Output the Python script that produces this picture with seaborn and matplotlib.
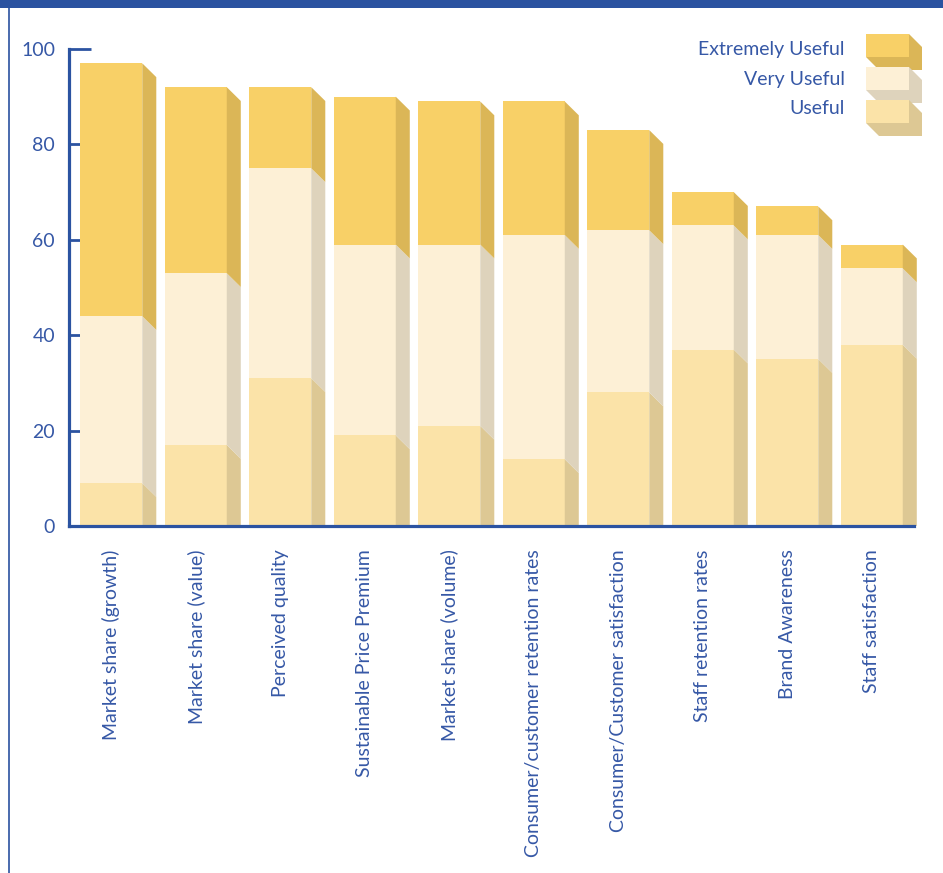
import numpy as np
import matplotlib
matplotlib.use("Agg")
import matplotlib.pyplot as plt
from matplotlib.patches import Rectangle, Polygon
from matplotlib.lines import Line2D
import seaborn as sns

# Data (percent of respondents)
categories = ["Market share (growth)", "Market share (value)", "Perceived quality",
              "Sustainable Price Premium", "Market share (volume)",
              "Consumer/customer retention rates", "Consumer/Customer satisfaction",
              "Staff retention rates", "Brand Awareness", "Staff satisfaction"]
useful = [9, 17, 31, 19, 21, 14, 28, 37, 35, 38]
very_useful = [35, 36, 44, 40, 38, 47, 34, 26, 26, 16]
extremely_useful = [53, 39, 17, 31, 30, 28, 21, 7, 6, 5]

series_names = ["Useful", "Very Useful", "Extremely Useful"]
front_colors = ["#fbe3a8", "#fdf0d6", "#f8d067"]
side_colors = ["#ddc894", "#ded3bc", "#dbb657"]

text_color = "#3658a6"
axis_color = "#2b53a1"

sns.set_style("white")
plt.rcParams["font.family"] = ["Lato", "DejaVu Sans"]

W, H = 943, 873
fig = plt.figure(figsize=(W / 100, H / 100), dpi=100)
ax = fig.add_axes([69 / W, 1 - 526 / H, 845 / W, 477 / H])

# cumulative tops of each layer
layers = [useful, very_useful, extremely_useful]
tops = np.cumsum(np.array(layers), axis=0)
bottoms = tops - np.array(layers)

bar_w = 0.734
side_w = 0.166
depth = 2.9

# front faces, tallest layer first so lower layers sit on top
for k in [2, 1, 0]:
    sns.barplot(x=categories, y=tops[k], color=front_colors[k], width=bar_w,
                saturation=1, linewidth=0, ax=ax, zorder=2)

# side faces of the 3D bars
for k in range(3):
    for i in range(len(categories)):
        xr = i + bar_w / 2
        top, bot = tops[k][i], bottoms[k][i]
        pts = [(xr, top), (xr + side_w, top - depth),
               (xr + side_w, max(bot - depth, 0)), (xr, bot)]
        ax.add_patch(Polygon(pts, closed=True, facecolor=side_colors[k],
                             edgecolor="none", clip_on=False, zorder=2))

ax.set_xlim(-0.5, len(categories) - 0.5)
ax.set_ylim(0, 100)
ax.set_yticks([0, 20, 40, 60, 80, 100])
ax.set_axisbelow(True)

for s in ["top", "right"]:
    ax.spines[s].set_visible(False)
for s in ["left", "bottom"]:
    ax.spines[s].set_color(axis_color)
    ax.spines[s].set_linewidth(2.3)
    ax.spines[s].set_zorder(3)

ax.tick_params(axis="y", left=True, direction="in", length=16, width=2,
               color=axis_color, labelsize=14, labelcolor=text_color, pad=10)
ax.set_xticks(range(len(categories)))
ax.set_xticklabels(categories, rotation=90)
ax.tick_params(axis="x", which="major", bottom=True, length=0, labelsize=14,
               labelcolor=text_color, pad=17)
ax.set_xticks(np.arange(-0.5, len(categories), 1), minor=True)
ax.tick_params(axis="x", which="minor", bottom=True, direction="in", length=8,
               width=2, color=axis_color)
ax.set_xlabel("")
ax.set_ylabel("")


def fxy(x, y):
    return (x / W, 1 - y / H)


# legend with 3D boxes (top to bottom: Extremely, Very, Useful)
box_tops = [100, 67, 34]
text_ys = [109, 80, 50]
bw, bh, bd = 43, 23, 13
for k in range(3):
    x0, y0 = 866, box_tops[k]
    ext = [fxy(x0 + bw, y0), fxy(x0 + bw + bd, y0 + bd), fxy(x0 + bw + bd, y0 + bh + bd),
           fxy(x0 + bd, y0 + bh + bd), fxy(x0, y0 + bh)]
    fig.add_artist(Polygon(ext, closed=True, transform=fig.transFigure,
                           facecolor=side_colors[k], edgecolor="none", zorder=5 + (2 - k)))
    fig.add_artist(Rectangle(fxy(x0, y0 + bh), bw / W, bh / H, transform=fig.transFigure,
                             facecolor=front_colors[k], edgecolor="none", zorder=5 + (2 - k)))
    fig.text(845 / W, 1 - text_ys[k] / H, series_names[k], ha="right", va="center",
             fontsize=14, color=text_color)

# page frame: blue band on top and thin line on the left
fig.add_artist(Rectangle((0, 1 - 8 / H), 1, 8 / H, transform=fig.transFigure,
                         facecolor="#2a52a0", edgecolor="none"))
fig.add_artist(Line2D([8.5 / W, 8.5 / W], [0, 1 - 8 / H], transform=fig.transFigure,
                      color="#2a52a0", linewidth=1.2))

fig.savefig("out.png", dpi=100)
